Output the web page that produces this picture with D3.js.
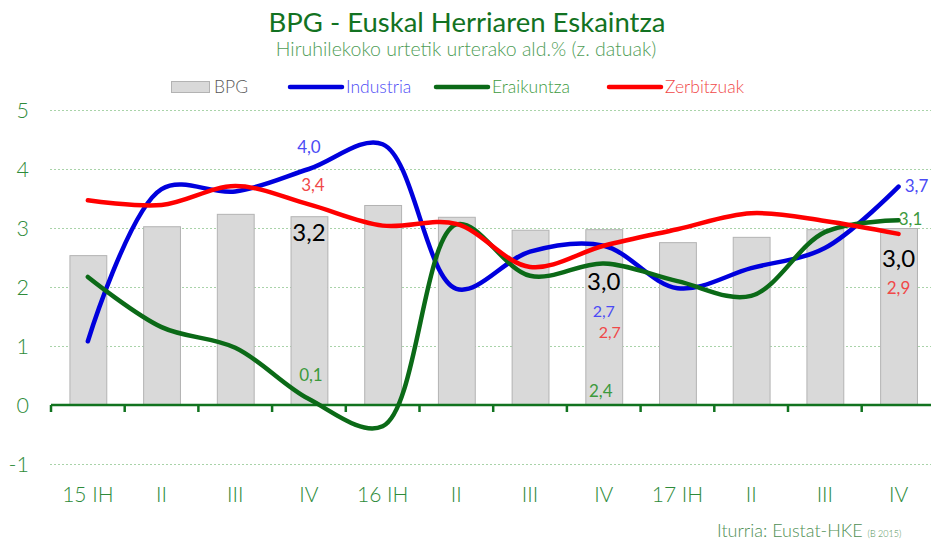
<!DOCTYPE html>
<html><head><meta charset="utf-8">
<script src="https://cdn.jsdelivr.net/npm/d3@7"></script>
<style>body{margin:0;background:#fff}svg{display:block;font-family:Lato,sans-serif}</style>
</head><body><svg id="c" width="931" height="540"></svg>
<script>
const categories = ["15 IH","II","III","IV","16 IH","II","III","IV","17 IH","II","III","IV"];
const bpg        = [2.54, 3.03, 3.24, 3.2, 3.39, 3.19, 2.97, 2.98, 2.76, 2.85, 2.98, 3.0];
const industria  = [1.08, 3.66, 3.62, 4.0, 4.42, 1.97, 2.6, 2.7, 1.98, 2.32, 2.66, 3.7];
const eraikuntza = [2.17, 1.32, 0.97, 0.1, -0.36, 3.06, 2.19, 2.4, 2.1, 1.85, 2.93, 3.13];
const zerbitzuak = [3.47, 3.39, 3.71, 3.4, 3.04, 3.07, 2.34, 2.7, 2.98, 3.25, 3.12, 2.9];
const yTicks = [-1, 0, 1, 2, 3, 4, 5];

const svg = d3.select("#c");
const x = d3.scaleBand().domain(d3.range(categories.length)).range([51, 935.4]).paddingInner(0).paddingOuter(0);
const y = d3.scaleLinear().domain([-1, 5]).range([464, 110]);
const bw = x.bandwidth()*0.5;
const cx = i => x(i) + x.bandwidth()/2;

// title
svg.append("text").attr("x",467).attr("y",32).attr("text-anchor","middle")
  .attr("font-size",27.5).attr("fill","#127222").text("BPG - Euskal Herriaren Eskaintza");
svg.append("text").attr("x",466).attr("y",56).attr("text-anchor","middle")
  .attr("font-size",19.5).attr("font-weight",300).attr("fill","#4f9d57").text("Hiruhilekoko urtetik urterako ald.% (z. datuak)");

// gridlines
svg.append("g").selectAll("line").data(yTicks.filter(d=>d!==0)).join("line")
  .attr("x1",50).attr("x2",931).attr("y1",d=>y(d)+0.5).attr("y2",d=>y(d)+0.5)
  .attr("stroke","#a9d3a9").attr("stroke-width",1).attr("stroke-dasharray","2,2");
// y labels
svg.append("g").selectAll("text").data(yTicks).join("text")
  .attr("x",29).attr("y",d=>y(d)+8).attr("text-anchor","end")
  .attr("font-size",21.5).attr("font-weight",300).attr("fill","#2e8b3a").text(d=>d);

// bars
svg.append("g").selectAll("rect").data(bpg).join("rect")
  .attr("x",(d,i)=>cx(i)-bw/2+0.5).attr("width",bw).attr("y",d=>y(d)+0.5).attr("height",d=>y(0)-y(d))
  .attr("fill","#d9d9d9").attr("stroke","#b3b3b3").attr("stroke-width",1);

// zero axis
svg.append("line").attr("x1",51).attr("x2",931).attr("y1",y(0)).attr("y2",y(0)).attr("stroke","#11731f").attr("stroke-width",2.5);
svg.append("g").selectAll("line").data(d3.range(categories.length)).join("line")
  .attr("x1",i=>x(i)).attr("x2",i=>x(i)).attr("y1",y(0)).attr("y2",y(0)+7)
  .attr("stroke","#11731f").attr("stroke-width",2.5);

// x labels
svg.append("g").selectAll("text").data(categories).join("text")
  .attr("x",(d,i)=>cx(i)).attr("y",502).attr("text-anchor","middle")
  .attr("font-size",21).attr("font-weight",300).attr("fill","#2e8b3a").text(d=>d);

// lines
const line = d3.line().x((d,i)=>cx(i)).y(d=>y(d)).curve(d3.curveCatmullRom.alpha(0.5));
const series = [
  {v:industria, c:"#0000dd"},
  {v:eraikuntza, c:"#0b6a17"},
  {v:zerbitzuak, c:"#ff0000"}
];
series.forEach(s=>{
  svg.append("path").attr("d",line(s.v)).attr("fill","none").attr("stroke",s.c)
    .attr("stroke-width",4.5).attr("stroke-linecap","round").attr("stroke-linejoin","round");
});

// data labels
const fmt = v => d3.format(".1f")(v).replace(".",",");
const lab = (i,v,dx,yy,col,fs) => svg.append("text").attr("x",cx(i)+dx).attr("y",yy)
  .attr("text-anchor","middle").attr("font-size",fs).attr("fill",col).text(fmt(v));
const cB="#4b4bf5", cR="#f04848", cG="#3c9a3c";
// IV 2015
lab(3,bpg[3],0,241,"#000",24);
lab(3,industria[3],0,153,cB,17);
lab(3,zerbitzuak[3],4,191,cR,17);
lab(3,eraikuntza[3],2,381,cG,17);
// IV 2016
lab(7,bpg[7],0,290,"#000",24);
lab(7,industria[7],0,317,cB,16);
lab(7,zerbitzuak[7],6,338,cR,16);
lab(7,eraikuntza[7],-3,397,cG,17);
// IV 2017
lab(11,bpg[11],0,267,"#000",24);
lab(11,industria[11],18,192,cB,17);
lab(11,eraikuntza[11],12,225,cG,17);
lab(11,zerbitzuak[11],0,294,cR,17);

// legend
const lg = svg.append("g");
lg.append("rect").attr("x",171.5).attr("y",81.5).attr("width",38).attr("height",11).attr("fill","#d9d9d9").attr("stroke","#b3b3b3");
lg.append("text").attr("x",214).attr("y",93).attr("font-size",17.5).attr("font-weight",300).attr("fill","#595959").text("BPG");
const legItems = [
  {x:290,t:"Industria",c:"#0000dd",tc:"#4b4bf5"},
  {x:436,t:"Eraikuntza",c:"#0b6a17",tc:"#3c9a3c"},
  {x:609,t:"Zerbitzuak",c:"#ff0000",tc:"#f04848"}
];
legItems.forEach(l=>{
  lg.append("line").attr("x1",l.x).attr("x2",l.x+52).attr("y1",87).attr("y2",87)
    .attr("stroke",l.c).attr("stroke-width",4.5).attr("stroke-linecap","round");
  lg.append("text").attr("x",l.x+56).attr("y",93).attr("font-size",17.5).attr("font-weight",300).attr("fill",l.tc).text(l.t);
});

// source
const src = svg.append("text").attr("x",717).attr("y",537).attr("font-size",18).attr("font-weight",300).attr("fill","#4f8f55");
src.append("tspan").text("Iturria: Eustat-HKE ");
src.append("tspan").attr("font-size",9).text("(B 2015)");
</script></body></html>
